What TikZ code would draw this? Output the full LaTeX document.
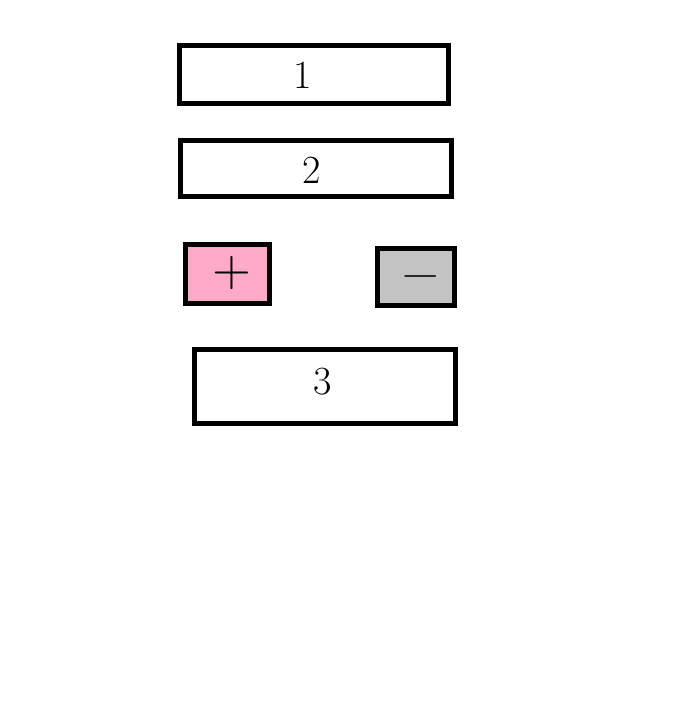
\documentclass[tikz,border=0pt]{standalone}
\begin{document}
\begin{tikzpicture}[x=1pt,y=-1pt,
  box/.style={draw=black,line width=5pt,line join=miter},
  lbl/.style={font=\fontsize{40}{40}\selectfont,inner sep=0pt}]
\useasboundingbox[fill=white] (0,0) rectangle (683,705);
\definecolor{paintpink}{RGB}{255,170,201}
\definecolor{paintgray}{RGB}{195,195,195}
\draw[box] (179.5,45.5) rectangle (448.5,103.5);
\draw[box] (180.5,140.5) rectangle (451.5,196.5);
\draw[box,fill=paintpink] (185.5,244.5) rectangle (269.5,303.5);
\draw[box,fill=paintgray] (377.5,248.5) rectangle (454.5,305.5);
\draw[box] (194.5,349.5) rectangle (455.5,423.5);
\node[lbl] (t1) at (303,75) {1};
\node[lbl] (t2) at (312,170) {2};
\node[inner sep=0pt] (tp) at (232,273) {\scalebox{5}{$+$}};
\node[inner sep=0pt] (tm) at (421,276) {\scalebox{5.2}[4]{$-$}};
\node[lbl] (t3) at (323,382) {3};
\end{tikzpicture}
\end{document}
